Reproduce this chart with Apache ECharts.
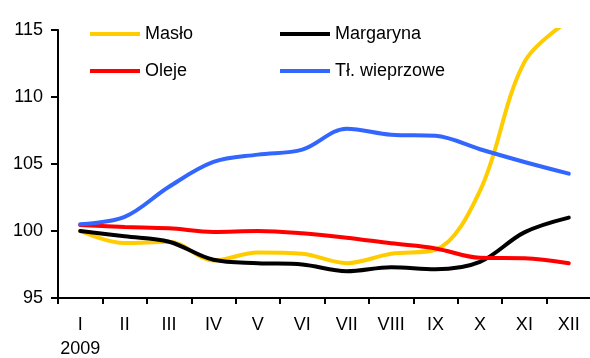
<!DOCTYPE html>
<html>
<head>
<meta charset="utf-8">
<script src="https://cdn.jsdelivr.net/npm/echarts@6/dist/echarts.min.js"></script>
<style>
  html, body { margin: 0; padding: 0; background: #fff; }
  #chart { width: 590px; height: 358px; }
</style>
</head>
<body>
<div id="chart"></div>
<script>
// Monthly price indices of edible fats, 2009
const months = ['I', 'II', 'III', 'IV', 'V', 'VI', 'VII', 'VIII', 'IX', 'X', 'XI', 'XII'];
const yearLabel = '2009';

const maslo      = [100.0, 99.1, 99.2, 97.8, 98.4, 98.3, 97.6, 98.3, 98.6, 103.0, 112.6, 115.7];
const margaryna  = [100.0, 99.6, 99.2, 97.85, 97.6, 97.5, 97.0, 97.3, 97.15, 97.7, 99.9, 101.0];
const oleje      = [100.45, 100.3, 100.2, 99.93, 100.0, 99.83, 99.5, 99.08, 98.7, 98.0, 97.97, 97.6];
const wieprzowe  = [100.5, 101.05, 103.3, 105.15, 105.7, 106.07, 107.63, 107.18, 107.1, 106.1, 105.15, 104.28];

const yTicks = { min: 95, max: 115, step: 5 };

const font = '"Liberation Sans", Arial, sans-serif';

function lineSeries(name, data, color) {
  return {
    name: name,
    type: 'line',
    data: data,
    smooth: 0.35,
    symbol: 'none',
    clip: true,
    lineStyle: { color: color, width: 4, cap: 'round' },
    itemStyle: { color: color }
  };
}

// legend key: a plain thick stroke, no marker in the middle
const legendCommon = {
  orient: 'vertical',
  top: 25,
  padding: 0,
  itemWidth: 50,
  itemHeight: 18,
  itemGap: 19,
  icon: 'path://M0,7 L50,7 L50,11 L0,11 Z',
  lineStyle: { width: 4, cap: 'round' },
  textStyle: { fontFamily: font, fontSize: 18, color: '#000' },
  selectedMode: false
};

const chart = echarts.init(document.getElementById('chart'), null, { renderer: 'canvas' });
chart.setOption({
  animation: false,
  backgroundColor: '#fff',
  grid: { left: 58, top: 30, width: 533, bottom: 60, containLabel: false, outerBoundsMode: 'none' },
  legend: [
    Object.assign({}, legendCommon, { left: 90, data: ['Masło', 'Oleje'] }),
    Object.assign({}, legendCommon, { left: 280, data: ['Margaryna', 'Tł. wieprzowe'] })
  ],
  xAxis: {
    type: 'category',
    data: months,
    boundaryGap: true,
    axisLine: { lineStyle: { color: '#000', width: 2 } },
    axisTick: { show: true, inside: false, length: 6, alignWithLabel: false, lineStyle: { color: '#000', width: 2 } },
    axisLabel: {
      interval: 0,
      margin: 15,
      fontFamily: font,
      fontSize: 18,
      color: '#000',
      lineHeight: 24,
      formatter: function (v, i) { return i === 0 ? v + '\n' + yearLabel : v; }
    },
    splitLine: { show: false }
  },
  yAxis: {
    type: 'value',
    min: yTicks.min,
    max: yTicks.max,
    interval: yTicks.step,
    axisLine: { show: true, lineStyle: { color: '#000', width: 2 } },
    axisTick: { show: true, inside: false, length: 7, lineStyle: { color: '#000', width: 2 } },
    axisLabel: { margin: 15, fontFamily: font, fontSize: 18, color: '#000' },
    splitLine: { show: false }
  },
  series: [
    lineSeries('Masło', maslo, '#FFCC00'),
    lineSeries('Margaryna', margaryna, '#000000'),
    lineSeries('Oleje', oleje, '#FF0000'),
    lineSeries('Tł. wieprzowe', wieprzowe, '#3366FF')
  ]
});
</script>
</body>
</html>
